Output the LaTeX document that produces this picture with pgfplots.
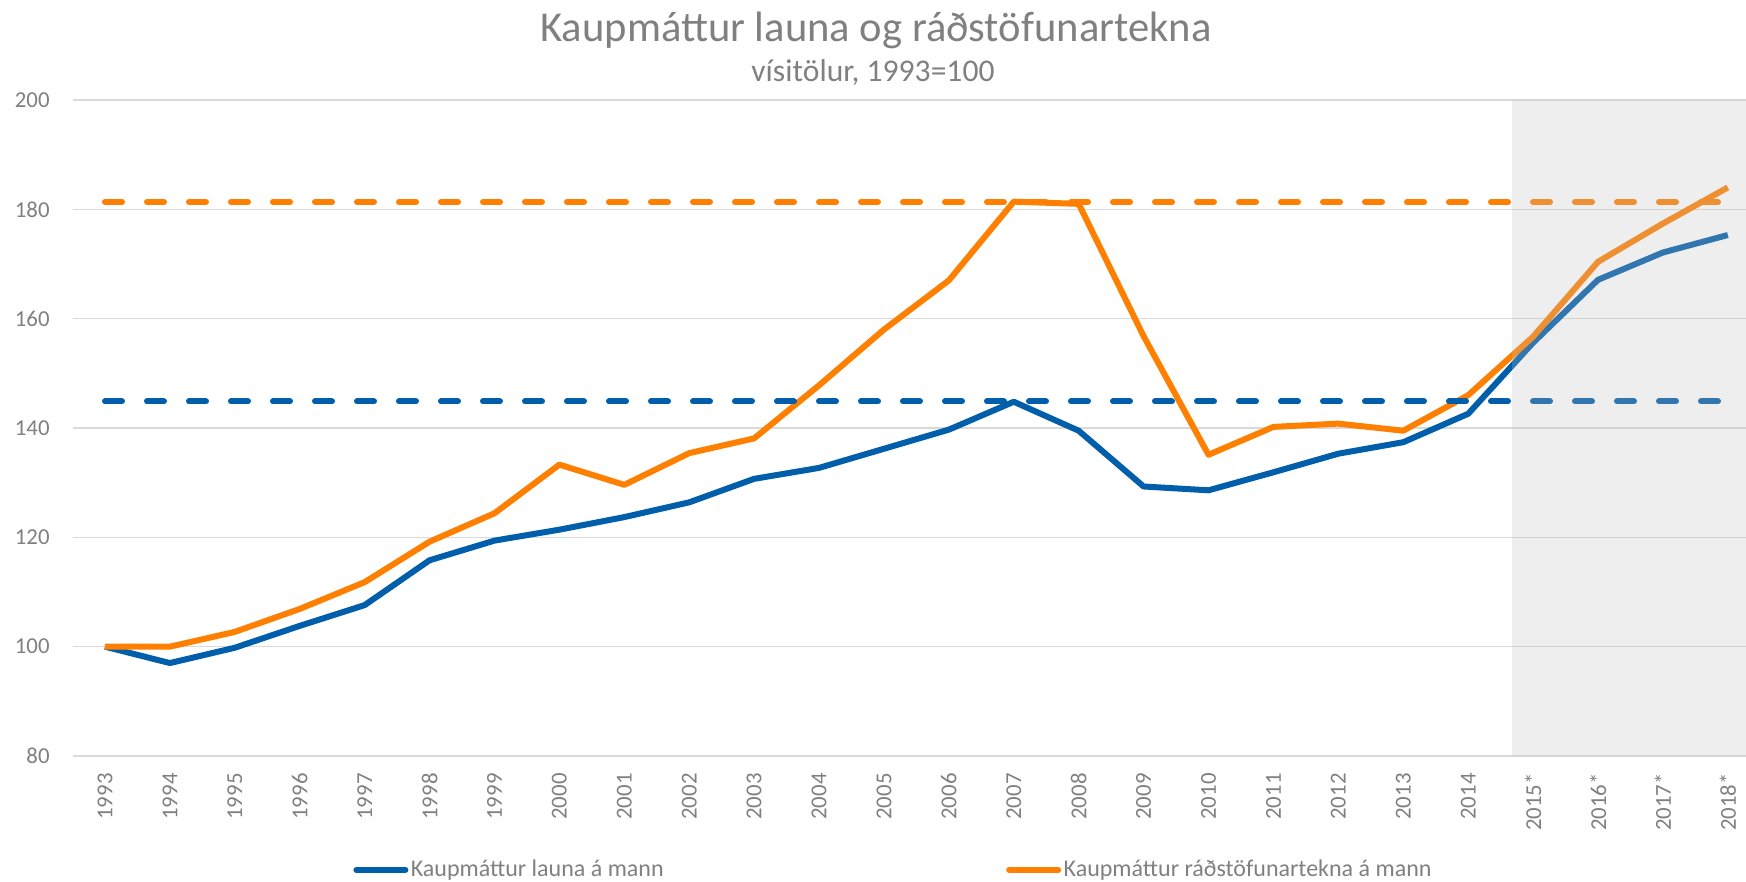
\documentclass[border=0pt]{standalone}
\usepackage{fontspec}
\setmainfont{Carlito}
\usepackage{pgfplots}
\usepackage{pgfplotstable}
\pgfplotsset{compat=1.18}
\definecolor{cblue}{RGB}{0,94,170}
\definecolor{corange}{RGB}{255,128,0}
\definecolor{txtgray}{RGB}{128,128,128}
\definecolor{gridgray}{RGB}{217,217,217}
\definecolor{shade}{RGB}{190,190,190}

\pgfplotstableread{
x lon rad
0 100.0 100.0
1 97.0 100.0
2 99.8 102.7
3 103.8 106.9
4 107.6 111.8
5 115.8 119.2
6 119.4 124.4
7 121.4 133.3
8 123.7 129.6
9 126.4 135.4
10 130.7 138.1
11 132.7 147.8
12 136.2 158.0
13 139.7 167.0
14 144.8 181.4
15 139.5 181.0
16 129.3 156.8
17 128.6 135.1
18 131.9 140.2
19 135.3 140.8
20 137.4 139.5
21 142.6 146.0
22 155.6 156.7
23 167.1 170.4
24 172.1 177.4
25 175.3 184.0
}\data

\begin{document}
\begin{tikzpicture}
\path[use as bounding box] (0,0) rectangle (873pt,441pt);
\node[anchor=base, text=txtgray, inner sep=0pt, font=\fontsize{21.3}{24}\selectfont] at (438pt,420pt) {Kaupmáttur launa og ráðstöfunartekna};
\node[anchor=base, text=txtgray, inner sep=0pt, font=\fontsize{15.8}{18}\selectfont] at (436.5pt,400pt) {vísitölur, 1993=100};
\begin{axis}[
  at={(36.75pt,63pt)}, anchor=south west,
  scale only axis, width=836.25pt, height=328pt,
  xmin=-0.485, xmax=25.28, ymin=80, ymax=200,
  axis line style={draw=none},
  major tick length=0pt,
  ymajorgrids,
  grid style={gridgray, line width=0.75pt},
  ytick={80,100,...,200},
  xtick={0,...,25},
  xticklabels={1993,1994,1995,1996,1997,1998,1999,2000,2001,2002,2003,2004,2005,2006,2007,2008,2009,2010,2011,2012,2013,2014,2015*,2016*,2017*,2018*},
  /pgf/number format/assume math mode=true,
  tick label style={font=\fontsize{11.4}{13}\selectfont, text=txtgray, inner sep=0pt},
  x tick label style={rotate=90, anchor=east},
  yticklabel shift=11.75pt,
  xticklabel shift=8.5pt,
  legend style={at={(0.16712,-0.17378)}, anchor=west, draw=none, fill=none,
    inner sep=0pt, font=\fontsize{12}{14}\selectfont, text=txtgray,
    nodes={inner sep=1.25pt},
    /tikz/every even column/.append style={column sep=170pt}},
  legend columns=2,
  legend image code/.code={\draw[#1, line width=3pt, line cap=round] (1.5pt,0pt) -- (26pt,0pt);},
]
\addplot[cblue, line width=3pt, line join=round] table[x=x, y=lon] {\data};
\addlegendentry{Kaupmáttur launa á mann}
\addplot[corange, line width=3pt, line join=round] table[x=x, y=rad] {\data};
\addlegendentry{Kaupmáttur ráðstöfunartekna á mann}
\addplot[cblue, line width=3pt, line cap=round, dash pattern=on 8.5pt off 12.5pt, forget plot] coordinates {(0,144.85) (25,144.85)};
\addplot[corange, line width=3pt, line cap=round, dash pattern=on 8.5pt off 12.5pt, forget plot] coordinates {(0,181.35) (25,181.35)};
\addplot[draw=none, fill=shade, fill opacity=0.26, forget plot] coordinates {(21.67,80) (25.28,80) (25.28,200) (21.67,200)} -- cycle;
\end{axis}
\end{tikzpicture}
\end{document}
